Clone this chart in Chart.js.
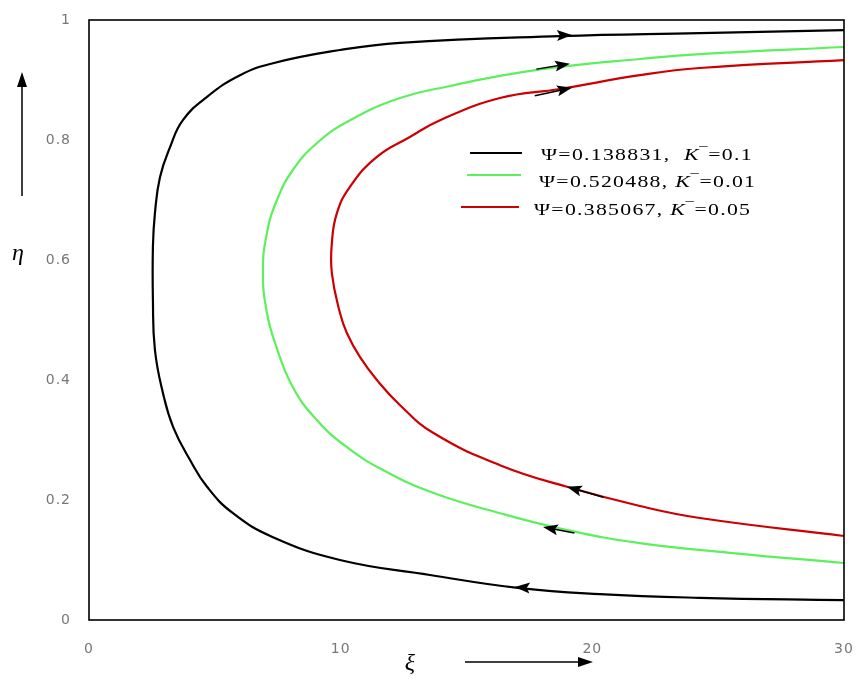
<!DOCTYPE html>
<html>
<head>
<meta charset="utf-8">
<script src="https://cdn.jsdelivr.net/npm/chart.js@4"></script>
<style>
  html, body { margin: 0; padding: 0; background: #fff; }
  #wrap { width: 857px; height: 681px; }
</style>
</head>
<body>
<div id="wrap"><canvas id="chart" width="857" height="681"></canvas></div>
<script>
// streamline values (xi, eta)
const blackXi  = [30, 24.27, 18.71, 12.36, 9.97, 7.31, 6.0, 4.69, 3.73, 3.22, 2.82, 2.62, 2.54, 2.54, 2.62, 2.94, 3.34, 4.01, 4.69, 5.72, 7.31, 9.97, 13.55, 17.12, 20.3, 24.27, 30];
const blackEta = [0.983, 0.978, 0.973, 0.962, 0.950, 0.928, 0.908, 0.872, 0.833, 0.788, 0.738, 0.678, 0.622, 0.533, 0.450, 0.378, 0.322, 0.267, 0.222, 0.178, 0.138, 0.100, 0.075, 0.053, 0.043, 0.037, 0.033];

const greenXi  = [30, 24.27, 21.89, 18.71, 16.33, 14.34, 12.36, 10.37, 9.06, 8.10, 7.47, 7.07, 6.91, 7.07, 7.39, 8.10, 9.06, 10.25, 11.68, 13.67, 16.33, 18.99, 21.89, 25.47, 30];
const greenEta = [0.955, 0.943, 0.935, 0.922, 0.907, 0.890, 0.870, 0.833, 0.795, 0.750, 0.700, 0.645, 0.578, 0.512, 0.462, 0.388, 0.333, 0.288, 0.250, 0.212, 0.178, 0.150, 0.128, 0.112, 0.095];

const redXi  = [30, 24.27, 21.89, 18.71, 16.33, 13.95, 12.75, 11.44, 10.37, 9.85, 9.65, 9.65, 9.97, 10.25, 10.77, 11.44, 12.36, 13.67, 16.33, 18.99, 21.89, 24.27, 30];
const redEta = [0.933, 0.920, 0.908, 0.885, 0.870, 0.833, 0.805, 0.772, 0.722, 0.678, 0.628, 0.578, 0.512, 0.478, 0.438, 0.400, 0.358, 0.312, 0.258, 0.222, 0.190, 0.170, 0.140];

// flow direction arrows: tip position, direction (deg, 0 = towards +xi), shaft length in px
const arrowXi    = [19.19, 19.11, 19.19, 18.99, 18.04, 16.92];
const arrowEta   = [0.975, 0.927, 0.887, 0.222, 0.155, 0.055];
const arrowDir   = [2, 9, 12, 164, 169, 176];
const arrowShaft = [0, 34, 38, 38, 32, 0];

const legendLabels = ['\u03A8=0.138831,  K\u203E=0.1', '\u03A8=0.520488, K\u203E=0.01', '\u03A8=0.385067, K\u203E=0.05'];
const lineColors = ['#000000', '#5cf05c', '#cc0000'];

const xTicks = [0, 10, 20, 30];
const yTicks = [0, 0.2, 0.4, 0.6, 0.8, 1];

const toPts = (xs, ys) => xs.map((x, i) => ({ x: x, y: ys[i] }));

const extras = {
    id: 'extras',
    beforeDraw(chart) {
        chart.ctx.letterSpacing = '1px';
    },
    afterDraw(chart) {
        const ctx = chart.ctx;
        const a = chart.chartArea;
        const xs = chart.scales.x, ys = chart.scales.y;
        ctx.save();
        ctx.letterSpacing = '0px';

        // arrows on the streamlines
        ctx.fillStyle = '#000';
        ctx.strokeStyle = '#000';
        arrowXi.forEach((v, i) => {
            const px = xs.getPixelForValue(v);
            const py = ys.getPixelForValue(arrowEta[i]);
            const ang = -arrowDir[i] * Math.PI / 180;
            const c = Math.cos(ang), s = Math.sin(ang);
            if (arrowShaft[i] > 0) {
                ctx.lineWidth = 1.5;
                ctx.beginPath();
                ctx.moveTo(px - c * arrowShaft[i], py - s * arrowShaft[i]);
                ctx.lineTo(px - c * 8, py - s * 8);
                ctx.stroke();
            }
            const len = 15, hw = 5.5;
            ctx.beginPath();
            ctx.moveTo(px, py);
            ctx.lineTo(px - c * len - s * hw, py - s * len + c * hw);
            ctx.lineTo(px - c * len * 0.8, py - s * len * 0.8);
            ctx.lineTo(px - c * len + s * hw, py - s * len - c * hw);
            ctx.closePath();
            ctx.fill();
        });

        // frame
        ctx.strokeStyle = '#000';
        ctx.lineWidth = 1.6;
        ctx.strokeRect(a.left, a.top, a.right - a.left, a.bottom - a.top);

        // legend (K drawn in italics, like the original)
        const rows = [
            { x1: 470, x2: 522, y: 153, tx: 541, ty: 156 },
            { x1: 467, x2: 521, y: 175, tx: 539, ty: 183 },
            { x1: 461, x2: 519, y: 207, tx: 534, ty: 211 }
        ];
        rows.forEach((r, i) => {
            ctx.strokeStyle = lineColors[i];
            ctx.lineWidth = 2.2;
            ctx.beginPath();
            ctx.moveTo(r.x1, r.y);
            ctx.lineTo(r.x2, r.y);
            ctx.stroke();
            ctx.save();
            ctx.translate(r.tx, r.ty);
            ctx.scale(1.28, 1);
            ctx.letterSpacing = '1px';
            ctx.textBaseline = 'middle';
            ctx.fillStyle = '#000';
            const k = legendLabels[i].indexOf('K');
            const parts = [
                [legendLabels[i].slice(0, k), ''],
                ['K', 'italic '],
                [legendLabels[i].slice(k + 1), '']
            ];
            let x = 0;
            parts.forEach(p => {
                ctx.font = p[1] + '17px "Liberation Serif"';
                ctx.fillText(p[0], x, 0);
                x += ctx.measureText(p[0]).width;
            });
            ctx.restore();
        });

        // axis titles with arrows
        ctx.fillStyle = '#000';
        ctx.font = 'italic 24px "Liberation Serif"';
        ctx.textAlign = 'center';
        ctx.textBaseline = 'middle';
        ctx.fillText('\u03B7', 18, 254);
        ctx.fillText('\u03BE', 410, 664);

        ctx.strokeStyle = '#000';
        ctx.lineWidth = 1.5;
        ctx.beginPath();
        ctx.moveTo(22, 196);
        ctx.lineTo(22, 84);
        ctx.moveTo(465, 662);
        ctx.lineTo(578, 662);
        ctx.stroke();
        ctx.beginPath();
        ctx.moveTo(22, 72); ctx.lineTo(17, 87); ctx.lineTo(27, 87); ctx.closePath();
        ctx.moveTo(593, 662); ctx.lineTo(578, 657); ctx.lineTo(578, 667); ctx.closePath();
        ctx.fill();
        ctx.restore();
    }
};

const ctxEl = document.getElementById('chart').getContext('2d');
const myChart = new Chart(ctxEl, {
    type: 'scatter',
    data: {
        datasets: [
            { label: legendLabels[0], data: toPts(blackXi, blackEta), showLine: true, borderColor: lineColors[0], borderWidth: 2.2, pointRadius: 0, tension: 0.45 },
            { label: legendLabels[1], data: toPts(greenXi, greenEta), showLine: true, borderColor: lineColors[1], borderWidth: 2.2, pointRadius: 0, tension: 0.45 },
            { label: legendLabels[2], data: toPts(redXi, redEta), showLine: true, borderColor: lineColors[2], borderWidth: 2.2, pointRadius: 0, tension: 0.45 }
        ]
    },
    options: {
        responsive: false,
        animation: false,
        layout: { padding: { top: 20, right: 13, left: 0, bottom: 0 } },
        plugins: { legend: { display: false }, tooltip: { enabled: false } },
        scales: {
            x: {
                type: 'linear',
                min: 0,
                max: 30,
                afterBuildTicks: s => { s.ticks = xTicks.map(v => ({ value: v })); },
                afterFit: s => { s.height = 61; s.paddingLeft = 0; s.paddingRight = 0; },
                grid: { display: false, drawTicks: false },
                border: { display: false },
                ticks: { padding: 21, color: '#777', font: { family: 'DejaVu Sans', size: 14 }, callback: v => String(v) }
            },
            y: {
                type: 'linear',
                min: 0,
                max: 1,
                afterBuildTicks: s => { s.ticks = yTicks.map(v => ({ value: v })); },
                afterFit: s => { s.width = 89; s.paddingTop = 0; s.paddingBottom = 0; },
                grid: { display: false, drawTicks: false },
                border: { display: false },
                ticks: { padding: 18, color: '#777', font: { family: 'DejaVu Sans', size: 14 }, callback: v => String(v) }
            }
        }
    },
    plugins: [extras]
});
</script>
</body>
</html>
